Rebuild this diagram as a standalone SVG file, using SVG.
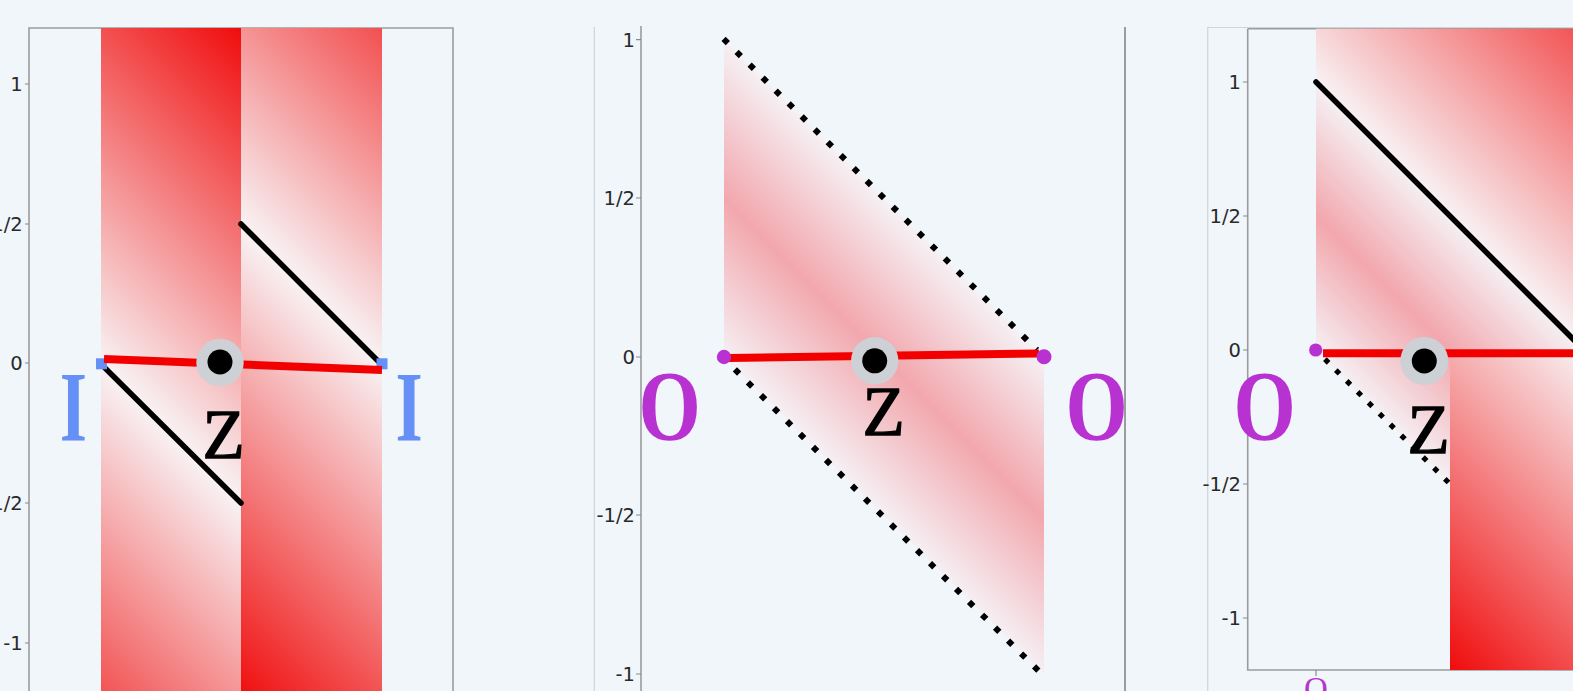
<svg xmlns="http://www.w3.org/2000/svg" width="1573" height="691" viewBox="0 0 1573 691">
<defs>
<linearGradient id="gL" gradientUnits="userSpaceOnUse" x1="-139.4" y1="604.4" x2="341.4" y2="123.6">
<stop offset="0" stop-color="#f00a0a"/><stop offset="0.5" stop-color="#f8f2f4"/><stop offset="1" stop-color="#f00a0a"/>
</linearGradient>
<linearGradient id="gR" gradientUnits="userSpaceOnUse" x1="621.4" y1="123.6" x2="140.6" y2="604.4">
<stop offset="0" stop-color="#f00a0a"/><stop offset="0.5" stop-color="#f8f2f4"/><stop offset="1" stop-color="#f00a0a"/>
</linearGradient>
<linearGradient id="gP2" gradientUnits="userSpaceOnUse" x1="724" y1="40" x2="565.6" y2="198.4">
<stop offset="0" stop-color="#f5f0f4"/><stop offset="0.5" stop-color="#f2a7ad"/><stop offset="1" stop-color="#f5f0f4"/>
</linearGradient>
<linearGradient id="gP3" gradientUnits="userSpaceOnUse" x1="1316" y1="82" x2="1182" y2="216">
<stop offset="0" stop-color="#f5f0f4"/><stop offset="0.5" stop-color="#f2a7ad"/><stop offset="1" stop-color="#f5f0f4"/>
</linearGradient>
<linearGradient id="gR3" gradientUnits="userSpaceOnUse" x1="1545" y1="-147" x2="1087" y2="311">
<stop offset="0" stop-color="#f00a0a"/><stop offset="0.5" stop-color="#f8f2f4"/><stop offset="1" stop-color="#f00a0a"/>
</linearGradient>
</defs>
<style>
.tick{font-family:"DejaVu Sans",sans-serif;font-size:19.5px;fill:#2a2a2a;text-anchor:end}
.tk{stroke:#8a8a8a;stroke-width:1.2}
.frame{stroke:#9c9c9c;stroke-width:1.6;fill:none}
.thin{stroke:#cfd4d9;stroke-width:1.2;fill:none}
.blk{stroke:#000;stroke-width:5.5;stroke-linecap:round;fill:none}
.dot{stroke:#000;stroke-width:6;stroke-dasharray:6 12.33;fill:none}
.dot3{stroke:#000;stroke-width:5.2;stroke-dasharray:5.2 10.2;fill:none}
.red{stroke:#f20000;stroke-width:8;fill:none}
.halo{fill:#cdd1d5}
.core{fill:#000}
.z{font-family:"Liberation Serif",serif;font-size:69px;text-anchor:middle;fill:#000;stroke:#000;stroke-width:1.3}
.big{font-family:"Liberation Serif",serif;font-weight:bold;font-size:100px;text-anchor:middle}
.I{fill:#6590f5}
.O{fill:#b832d2}
</style>
<rect width="1573" height="691" fill="#f1f6fb"/>

<!-- Panel 1 -->
<g id="panel1-axes">
<path class="frame" d="M29,691 V28 H453 V691"/>
<g class="tk"><path d="M25,84 H29 M25,224 H29 M25,363 H29 M25,503 H29 M25,643 H29"/></g>
<text class="tick" x="22.7" y="91">1</text>
<text class="tick" x="22.7" y="231">1/2</text>
<text class="tick" x="22.7" y="370">0</text>
<text class="tick" x="22.7" y="510">-1/2</text>
<text class="tick" x="22.7" y="650">-1</text>
</g>
<g id="panel1-fields">
<rect x="101" y="28" width="140" height="663" fill="url(#gL)"/>
<rect x="241" y="28" width="141" height="663" fill="url(#gR)"/>
</g>

<!-- Panel 2 -->
<g id="panel2-axes">
<path class="thin" d="M594.3,27 V691"/>
<path class="frame" d="M641,26 V691"/>
<path class="frame" d="M1125,27 V691" style="stroke-width:2"/>
<g class="tk"><path d="M636,39.6 H641 M636,198 H641 M636,357 H641 M636,515 H641 M636,674 H641"/></g>
<text class="tick" x="635" y="46.6">1</text>
<text class="tick" x="635" y="205">1/2</text>
<text class="tick" x="635" y="364">0</text>
<text class="tick" x="635" y="522">-1/2</text>
<text class="tick" x="635" y="681">-1</text>
</g>
<g id="panel2-field">
<polygon points="724,40 1044,357 1044,674 724,357" fill="url(#gP2)"/>
</g>

<!-- Panel 3 -->
<g id="panel3-axes">
<path class="thin" d="M1207.7,691 V27.5 H1573"/>
<path class="frame" d="M1247.7,28.7 H1573 M1247.7,28.7 V670 H1573"/>
<g class="tk"><path d="M1243,82 H1247.7 M1243,216 H1247.7 M1243,350 H1247.7 M1243,484 H1247.7 M1243,618 H1247.7 M1316,670 V676"/></g>
<text class="tick" x="1241" y="89">1</text>
<text class="tick" x="1241" y="223">1/2</text>
<text class="tick" x="1241" y="357">0</text>
<text class="tick" x="1241" y="491">-1/2</text>
<text class="tick" x="1241" y="625">-1</text>
<text x="1316" y="700" font-family="Liberation Serif, serif" font-size="33" fill="#b832d2" text-anchor="middle">O</text>
</g>
<g id="panel3-fields">
<rect x="1316" y="28.7" width="257" height="321.3" fill="url(#gR3)"/>
<rect x="1450" y="350" width="123" height="320" fill="url(#gR3)"/>
<polygon points="1316,82 1573,339 1573,350 1450,350 1450,484 1316,350" fill="url(#gP3)"/>
</g>

<g id="connectors">
<line class="blk" x1="103" y1="366" x2="241" y2="503"/>
<line class="blk" x1="241" y1="224" x2="378" y2="361"/>
<line class="dot" x1="723.6" y1="38.9" x2="1037" y2="350"/>
<line class="dot" x1="734.9" y1="369.4" x2="1038.5" y2="670.8"/>
<line class="blk" x1="1316" y1="82" x2="1585" y2="351"/>
<line class="dot" style="stroke-width:5.2;stroke-dasharray:5.2 10.2" x1="1324.9" y1="359.2" x2="1449" y2="483"/>
</g>

<g id="I-left"><rect x="96" y="358.3" width="11" height="11" fill="#6590f5"/><text class="big I" transform="translate(73.3,440) scale(0.7,1)">I</text></g>
<g id="I-right"><rect x="376.5" y="358.3" width="11" height="11" fill="#6590f5"/><text class="big I" transform="translate(409,440) scale(0.7,1)">I</text></g>

<g id="red-lines">
<line class="red" x1="104" y1="359" x2="382" y2="370"/>
<line class="red" x1="729" y1="358" x2="1039" y2="353.5"/>
<line class="red" x1="1323" y1="353.3" x2="1573" y2="353.3"/>
</g>

<g id="O-p2-left"><circle cx="724" cy="357" r="7.2" class="O"/><text class="big O" transform="translate(669.5,439) scale(0.8,1)">O</text></g>
<g id="O-p2-right"><circle cx="1044" cy="356.7" r="7.5" class="O"/><text class="big O" transform="translate(1096.7,439) scale(0.8,1)">O</text></g>
<g id="O-p3"><circle cx="1315.7" cy="350" r="6.6" class="O"/><text class="big O" transform="translate(1264.5,439) scale(0.8,1)">O</text></g>

<g id="Z-p1"><circle cx="220" cy="362.5" r="23.7" class="halo"/><circle cx="220" cy="362" r="12.5" class="core"/><text class="z" x="223.5" y="458">Z</text></g>
<g id="Z-p2"><circle cx="874.7" cy="360.8" r="23.7" class="halo"/><circle cx="874.7" cy="360.8" r="12.5" class="core"/><text class="z" x="883.7" y="435">Z</text></g>
<g id="Z-p3"><circle cx="1424.3" cy="361" r="24" class="halo"/><circle cx="1424.3" cy="361" r="12.5" class="core"/><text class="z" x="1428.5" y="453">Z</text></g>
</svg>
